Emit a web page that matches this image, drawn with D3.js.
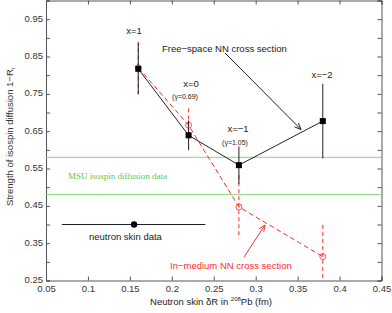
<!DOCTYPE html>
<meta charset="utf-8">
<style>
body { margin: 0; background: white; }
</style>
<body>
<script src="https://cdn.jsdelivr.net/npm/d3@7"></script>
<script>
// free-space NN cross section (black squares)
var freeX = [0.16, 0.22, 0.28, 0.38],
    freeY = [0.817, 0.639, 0.559, 0.677],
    freeErr = [0.069, 0.04, 0.05, 0.1];

// in-medium NN cross section (red circles)
var medX = [0.16, 0.22, 0.28, 0.38],
    medY = [0.82, 0.666, 0.447, 0.314],
    medErr = [0.07, 0.045, 0.085, 0.085];

// MSU isospin diffusion band
var msuBand = [0.48, 0.58];

// neutron skin data point
var skin = {x: 0.155, y: 0.40, lo: 0.069, hi: 0.24};

var xTicks = [0.05, 0.1, 0.15, 0.2, 0.25, 0.3, 0.35, 0.4, 0.45],
    yTicks = [0.25, 0.35, 0.45, 0.55, 0.65, 0.75, 0.85, 0.95],
    yMinor = d3.range(0.25, 1.0001, 0.05);

var width = 392, height = 313,
    margin = {top: 0.5, right: 10.5, bottom: 32.5, left: 46};

var sans = "Liberation Sans, Arial, sans-serif";

var x = d3.scaleLinear().domain([0.05, 0.45]).range([margin.left, width - margin.right]);
var y = d3.scaleLinear().domain([0.25, 1.0]).range([height - margin.bottom, margin.top]);

var svg = d3.select("body").append("svg")
    .attr("width", width)
    .attr("height", height)
    .style("font-family", sans);

svg.append("defs").append("clipPath").attr("id", "clip")
  .append("rect")
    .attr("x", x(0.05)).attr("y", y(1.0))
    .attr("width", x(0.45) - x(0.05)).attr("height", y(0.25) - y(1.0));

var green = "#84d97a", red = "#ff2a2a";

// axes with inward ticks
svg.append("g").attr("transform", "translate(0," + y(0.25) + ")")
    .call(d3.axisBottom(x).tickValues(xTicks).tickSize(-4).tickPadding(5).tickFormat(d3.format("")));
svg.append("g").attr("transform", "translate(0," + y(1.0) + ")")
    .call(d3.axisTop(x).tickValues(xTicks).tickSize(-4).tickFormat(""));
svg.append("g").attr("transform", "translate(" + x(0.05) + ",0)")
    .call(d3.axisLeft(y).tickValues(yMinor).tickSize(-4).tickPadding(3)
      .tickFormat(function(d) {
        var s = d3.format(".2f")(d);
        return yTicks.some(function(t) { return Math.abs(t - d) < 1e-6; }) ? s : "";
      }))
  .selectAll(".tick text").attr("dy", "0.2em");
svg.append("g").attr("transform", "translate(" + x(0.45) + ",0)")
    .call(d3.axisRight(y).tickValues(yMinor).tickSize(-4).tickFormat(""));

svg.selectAll(".domain").attr("stroke", "#555");
svg.selectAll(".tick line").attr("stroke", "#555");
svg.selectAll(".tick text").attr("font-size", 9.5).attr("fill", "#333")
    .attr("font-family", sans);

// axis titles
var xl = svg.append("text")
    .attr("x", 211).attr("y", 305)
    .attr("text-anchor", "middle")
    .attr("font-size", 9.5).attr("fill", "#222");
xl.append("tspan").text("Neutron skin δR in ");
xl.append("tspan").attr("font-size", 6).attr("dy", -4).text("208");
xl.append("tspan").attr("dy", 4).text("Pb (fm)");

var yl = svg.append("text")
    .attr("transform", "translate(13," + 137 + ") rotate(-90)")
    .attr("text-anchor", "middle")
    .attr("font-size", 9.5).attr("fill", "#333");
yl.append("tspan").text("Strength of isospin diffusion 1−R");
yl.append("tspan").attr("font-size", 6).attr("dy", 2).text("i");

var plot = svg.append("g").attr("clip-path", "url(#clip)");

// MSU band lines
plot.selectAll(".msu").data(msuBand).enter().append("line")
    .attr("x1", x(0.05)).attr("x2", x(0.45))
    .attr("y1", function(d) { return y(d); }).attr("y2", function(d) { return y(d); })
    .attr("stroke", green).attr("stroke-width", 1);

svg.append("text").attr("x", 68).attr("y", 179)
    .style("font-family", "Liberation Serif, Times New Roman, serif")
    .attr("font-size", 9).attr("fill", "#5cc84e")
    .text("MSU isospin diffusion data");

// in-medium (red, dashed)
var medPts = medX.map(function(d, i) { return [d, medY[i], medErr[i]]; });
plot.selectAll(".medErr").data(medPts).enter().append("line")
    .attr("x1", function(d) { return x(d[0]); }).attr("x2", function(d) { return x(d[0]); })
    .attr("y1", function(d) { return y(d[1] + d[2]); }).attr("y2", function(d) { return y(d[1] - d[2]); })
    .attr("stroke", red).attr("stroke-dasharray", "4,3");
plot.append("path")
    .datum(medPts)
    .attr("d", d3.line().x(function(d) { return x(d[0]); }).y(function(d) { return y(d[1]); }))
    .attr("fill", "none").attr("stroke", red).attr("stroke-dasharray", "5,3");
plot.selectAll(".medPt").data(medPts).enter().append("circle")
    .attr("cx", function(d) { return x(d[0]); }).attr("cy", function(d) { return y(d[1]); })
    .attr("r", 3).attr("fill", "none").attr("stroke", red).attr("stroke-width", 0.8);

// free-space (black)
var freePts = freeX.map(function(d, i) { return [d, freeY[i], freeErr[i]]; });
plot.selectAll(".freeErr").data(freePts).enter().append("line")
    .attr("x1", function(d) { return x(d[0]); }).attr("x2", function(d) { return x(d[0]); })
    .attr("y1", function(d) { return y(d[1] + d[2]); }).attr("y2", function(d) { return y(d[1] - d[2]); })
    .attr("stroke", "#222");
plot.append("path")
    .datum(freePts)
    .attr("d", d3.line().x(function(d) { return x(d[0]); }).y(function(d) { return y(d[1]); }))
    .attr("fill", "none").attr("stroke", "#222");
plot.selectAll(".freePt").data(freePts).enter().append("rect")
    .attr("x", function(d) { return x(d[0]) - 3; }).attr("y", function(d) { return y(d[1]) - 3; })
    .attr("width", 6).attr("height", 6).attr("fill", "#000");

// neutron skin data
plot.append("line")
    .attr("x1", x(skin.lo)).attr("x2", x(skin.hi))
    .attr("y1", y(skin.y)).attr("y2", y(skin.y))
    .attr("stroke", "#222");
plot.append("circle")
    .attr("cx", x(skin.x)).attr("cy", y(skin.y)).attr("r", 3.2).attr("fill", "#000");
svg.append("text").attr("x", 89).attr("y", 239.5)
    .attr("font-size", 9.5).attr("fill", "#222").text("neutron skin data");

// labels
function label(t, lx, ly, size, anchor) {
  return svg.append("text").attr("x", lx).attr("y", ly)
      .attr("font-size", size).attr("fill", "#222")
      .attr("text-anchor", anchor || "middle").text(t);
}
label("x=1", 134, 33.5, 9.5);
label("x=0", 191, 86.5, 9.5);
label("(γ=0.69)", 185, 99, 7);
label("x=−1", 238, 131.5, 9.5);
label("(γ=1.05)", 235, 144.5, 7);
label("x=−2", 322, 77.5, 9.5);
label("Free−space NN cross section", 162, 51.5, 9.5, "start");
label("In−medium NN cross section", 170, 269, 9.5, "start").attr("fill", red);

// arrows
function arrow(x1, y1, x2, y2, color) {
  var a = Math.atan2(y2 - y1, x2 - x1), L = 7, w = 0.4;
  svg.append("line").attr("x1", x1).attr("y1", y1).attr("x2", x2).attr("y2", y2)
      .attr("stroke", color);
  svg.append("path")
      .attr("d", "M" + (x2 - L * Math.cos(a - w)) + "," + (y2 - L * Math.sin(a - w)) +
        "L" + x2 + "," + y2 +
        "L" + (x2 - L * Math.cos(a + w)) + "," + (y2 - L * Math.sin(a + w)))
      .attr("fill", "none").attr("stroke", color);
}
arrow(225, 53, 301, 129.5, "#222");
arrow(244, 257, 265, 225, red);
</script>
</body>
